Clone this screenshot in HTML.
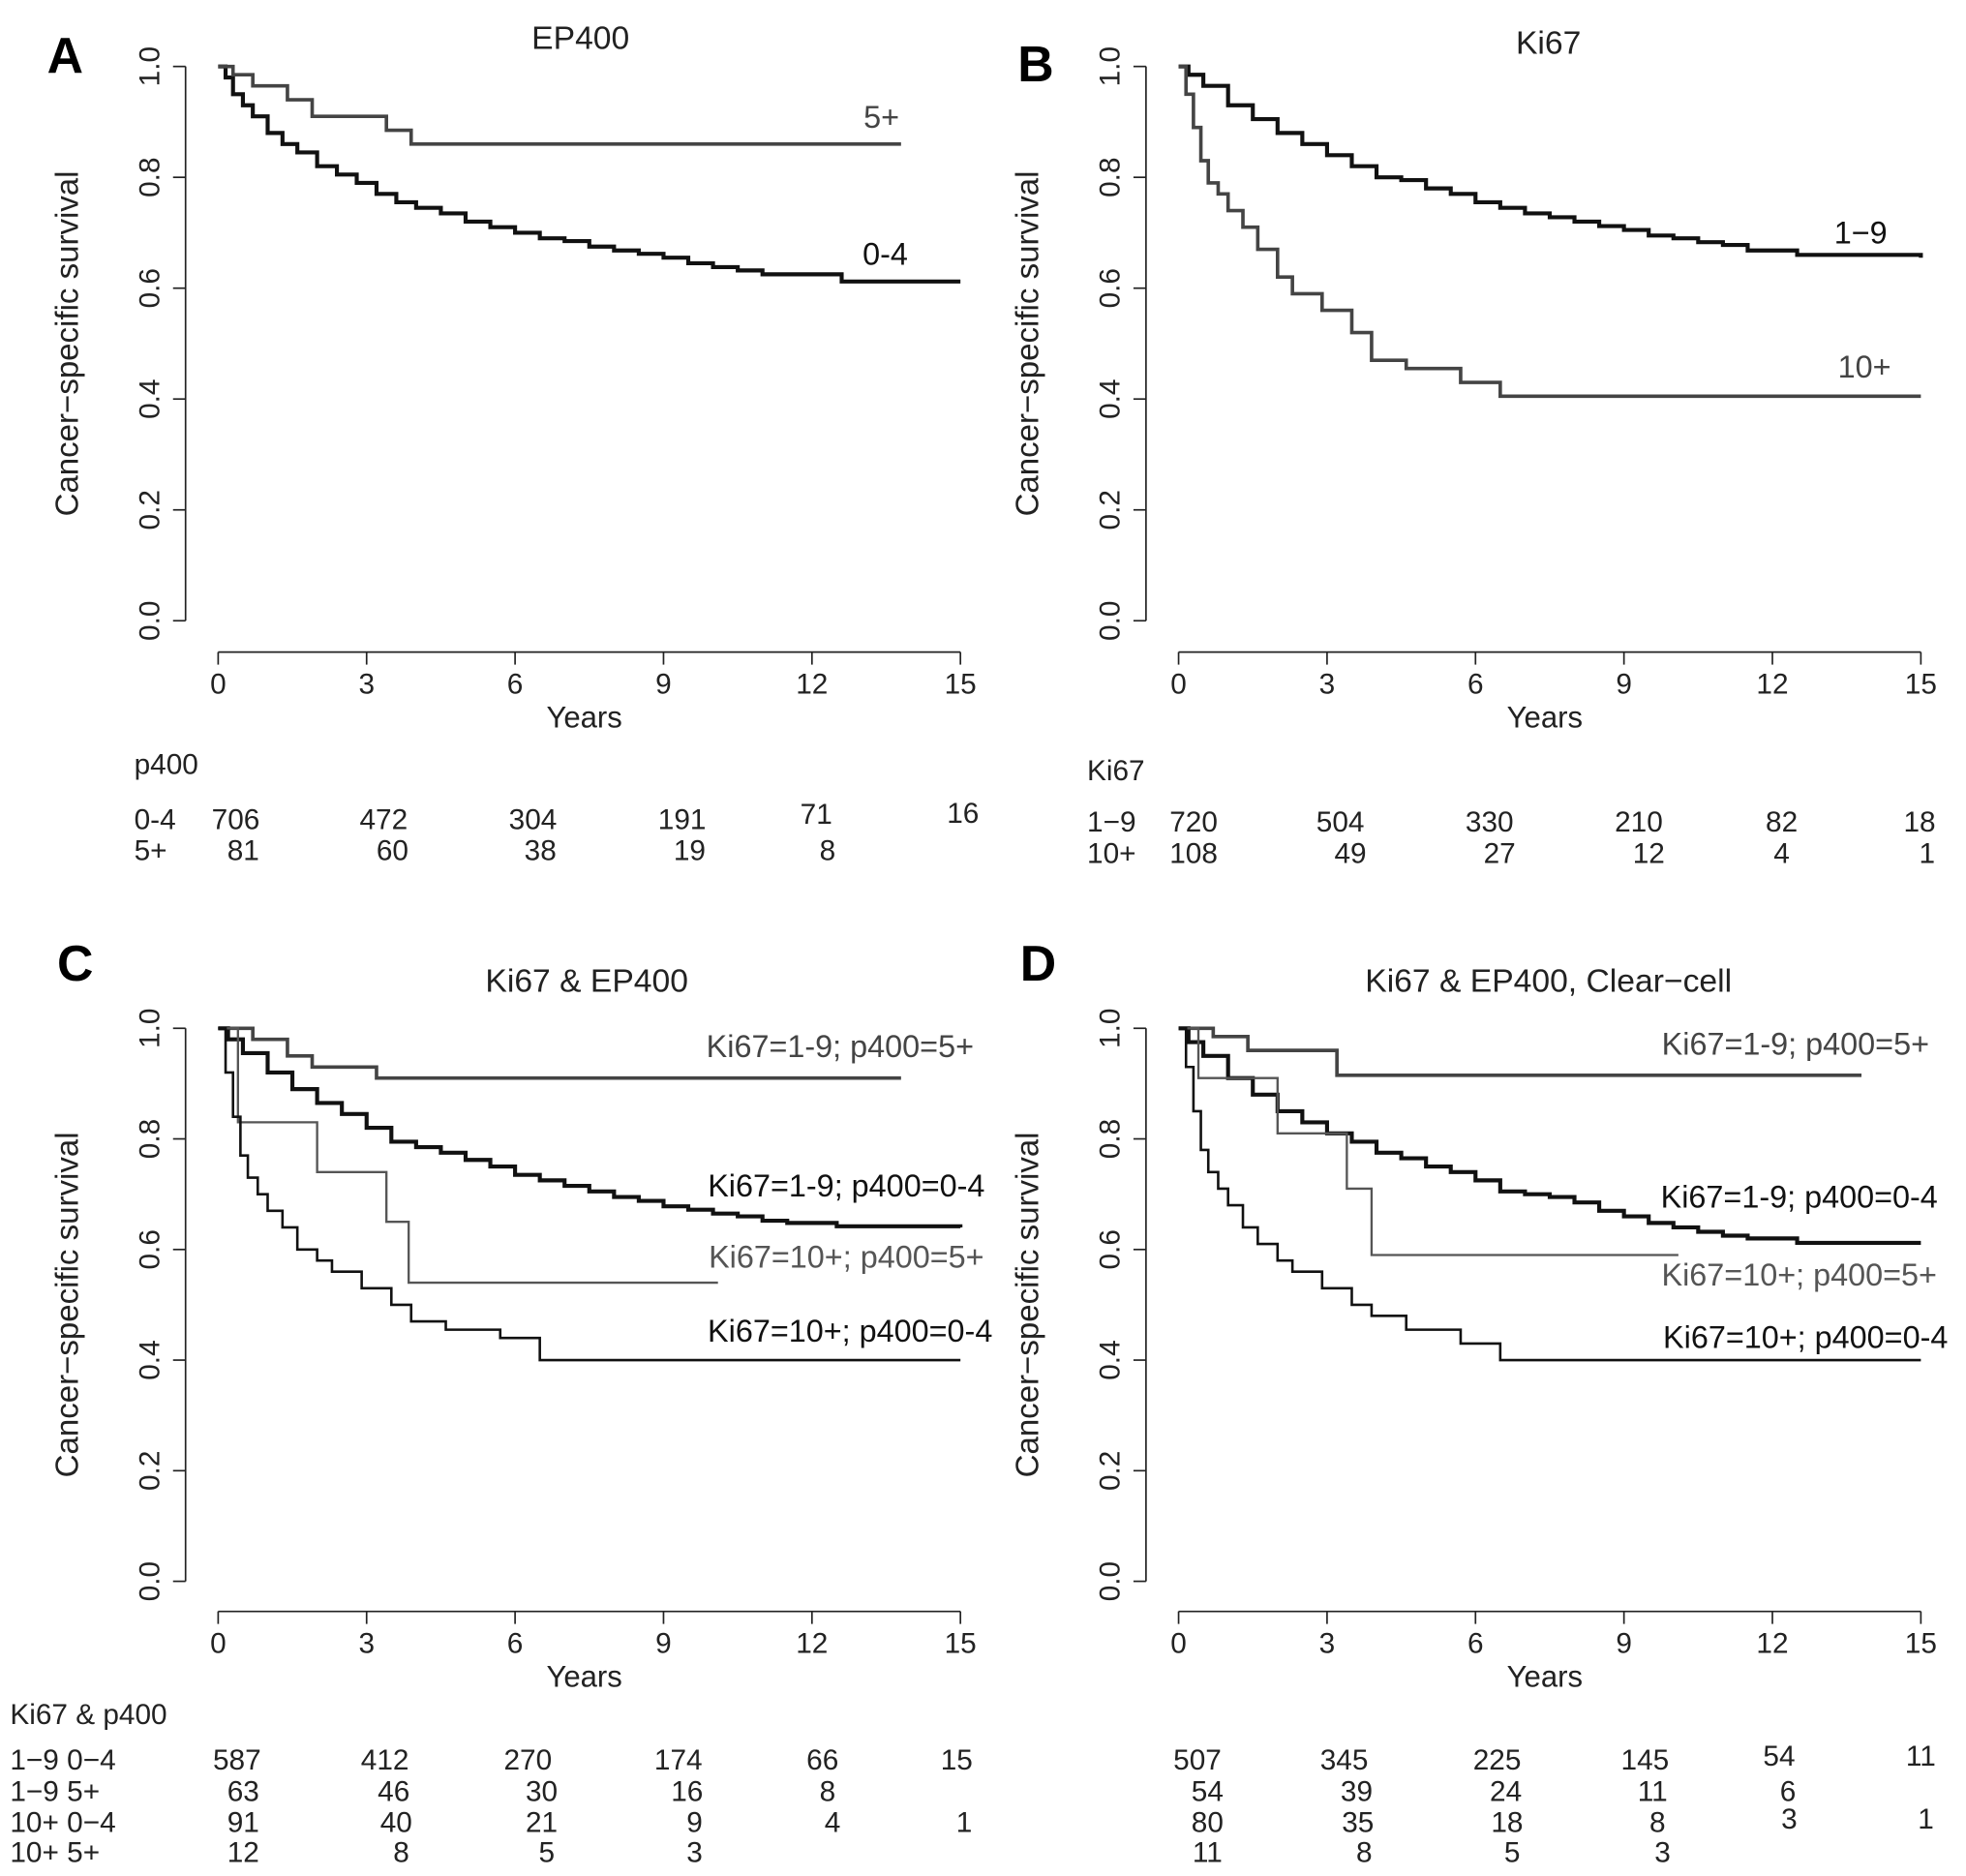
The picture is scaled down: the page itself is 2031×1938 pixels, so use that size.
<!DOCTYPE html>
<html><head><meta charset="utf-8"><style>
html,body{margin:0;padding:0;background:#fff}
svg{display:block}
text{font-family:"Liberation Sans",Arial,sans-serif}
</style></head><body>
<svg id="fig" width="2031" height="1938" viewBox="0 0 1568 1496" preserveAspectRatio="none" xmlns="http://www.w3.org/2000/svg"></svg>
<script>
// ---- data (time in years, survival) ----
const xTicks=[0,3,6,9,12,15];
const yTicks=[0,0.2,0.4,0.6,0.8,1.0];
const yTickLabels=["0.0","0.2","0.4","0.6","0.8","1.0"];
const a04T=[0,0.15,0.3,0.5,0.7,1,1.3,1.6,2,2.4,2.8,3.2,3.6,4,4.5,5,5.5,6,6.5,7,7.5,8,8.5,9,9.5,10,10.5,11,12.6,15];
const a04S=[1,0.98,0.95,0.93,0.91,0.88,0.86,0.845,0.82,0.805,0.79,0.77,0.755,0.745,0.735,0.72,0.71,0.70,0.69,0.685,0.675,0.668,0.662,0.655,0.645,0.638,0.632,0.625,0.612,0.612];
const a5T=[0,0.3,0.7,1.4,1.9,3.4,3.9,13.8];
const a5S=[1,0.985,0.965,0.94,0.91,0.885,0.86,0.86];
const b19T=[0,0.2,0.5,1,1.5,2,2.5,3,3.5,4,4.5,5,5.5,6,6.5,7,7.5,8,8.5,9,9.5,10,10.5,11,11.5,12.5,15];
const b19S=[1,0.985,0.965,0.93,0.905,0.88,0.86,0.84,0.82,0.80,0.795,0.78,0.77,0.755,0.745,0.735,0.728,0.72,0.712,0.705,0.695,0.69,0.683,0.678,0.668,0.66,0.655];
const b10T=[0,0.15,0.3,0.45,0.6,0.8,1,1.3,1.6,2,2.3,2.9,3.5,3.9,4.6,5.7,6.5,15];
const b10S=[1,0.95,0.89,0.83,0.79,0.77,0.74,0.71,0.67,0.62,0.59,0.56,0.52,0.47,0.455,0.43,0.405,0.405];
const c195T=[0,0.7,1.4,1.9,3.2,13.8];
const c195S=[1,0.98,0.95,0.93,0.91,0.91];
const c1904T=[0,0.2,0.5,1,1.5,2,2.5,3,3.5,4,4.5,5,5.5,6,6.5,7,7.5,8,8.5,9,9.5,10,10.5,11,11.5,12.5,15];
const c1904S=[1,0.98,0.955,0.92,0.89,0.865,0.845,0.82,0.795,0.785,0.775,0.762,0.75,0.735,0.725,0.715,0.705,0.695,0.688,0.678,0.672,0.665,0.66,0.652,0.648,0.642,0.64];
const c105T=[0,0.4,2,3.4,3.85,10.1];
const c105S=[1,0.83,0.74,0.65,0.54,0.54];
const c1004T=[0,0.15,0.3,0.45,0.6,0.8,1,1.3,1.6,2,2.3,2.9,3.5,3.9,4.6,5.7,6.5,15];
const c1004S=[1,0.92,0.84,0.77,0.73,0.70,0.67,0.64,0.6,0.58,0.56,0.53,0.5,0.47,0.455,0.44,0.40,0.40];
const d195T=[0,0.7,1.4,3.2,13.8];
const d195S=[1,0.985,0.96,0.915,0.915];
const d1904T=[0,0.2,0.5,1,1.5,2,2.5,3,3.5,4,4.5,5,5.5,6,6.5,7,7.5,8,8.5,9,9.5,10,10.5,11,11.5,12.5,15];
const d1904S=[1,0.975,0.95,0.91,0.88,0.85,0.83,0.81,0.795,0.775,0.765,0.75,0.74,0.725,0.705,0.7,0.695,0.685,0.67,0.66,0.648,0.64,0.632,0.625,0.62,0.612,0.612];
const d105T=[0,0.4,2,3.4,3.9,10.1];
const d105S=[1,0.91,0.81,0.71,0.59,0.59];
const d1004T=[0,0.15,0.3,0.45,0.6,0.8,1,1.3,1.6,2,2.3,2.9,3.5,3.9,4.6,5.7,6.5,15];
const d1004S=[1,0.93,0.85,0.78,0.74,0.71,0.68,0.64,0.61,0.58,0.56,0.53,0.5,0.48,0.455,0.43,0.40,0.40];

const NS="http://www.w3.org/2000/svg";
const svg=document.getElementById('fig');
function el(tag,attrs,parent){const e=document.createElementNS(NS,tag);for(const k in attrs)e.setAttribute(k,attrs[k]);(parent||svg).appendChild(e);return e;}
function txt(x,y,s,size,anchor,parent,fill,weight,rot){const t=el('text',{x:x,y:y,'font-size':size,'text-anchor':anchor||'middle',fill:fill||'#222'},parent);if(weight)t.setAttribute('font-weight',weight);if(rot)t.setAttribute('transform','rotate(-90 '+x+' '+y+')');t.textContent=s;return t;}

function panel(name,x0,y1,y0,letter,lx,ly,title,tx,ty,series,axisY){
  const g=el('g',{});
  
  
  const xs=t=>x0+t*(592/15), ys=s=>y0-s*(y0-y1);
  const lt=txt(lx,ly,letter,40,'middle',g,'#000','bold');
  
  const tt=txt(tx,ty,title,26,'middle',g);
  
  const ax=x0-26;
  const ya=el('g',{},g);
  
  el('line',{x1:ax,x2:ax,y1:ys(0),y2:ys(1),stroke:'#222','stroke-width':1.3},ya);
  yTicks.forEach((v,i)=>{el('line',{x1:ax-10,x2:ax,y1:ys(v),y2:ys(v),stroke:'#222','stroke-width':1.3},ya);txt(ax-21,ys(v),yTickLabels[i],23,'middle',ya,'#222',null,true);});
  const yt=txt(x0-112,ys(0.5),'Cancer−specific survival',25.5,'middle',ya,'#222',null,true);
  
  const xa=el('g',{},g);
  
  el('line',{x1:xs(0),x2:xs(15),y1:axisY,y2:axisY,stroke:'#222','stroke-width':1.3},xa);
  xTicks.forEach(v=>{el('line',{x1:xs(v),x2:xs(v),y1:axisY,y2:axisY+10,stroke:'#222','stroke-width':1.3},xa);txt(xs(v),axisY+33,String(v),23,'middle',xa);});
  const xt=txt(xs(7.4),axisY+60,'Years',24,'middle',xa);
  
  series.forEach(s=>{
    let d='M'+xs(s.t[0])+','+ys(s.s[0]);
    for(let i=1;i<s.t.length;i++){d+=' H'+xs(s.t[i])+' V'+ys(s.s[i]);}
    const p=el('path',{d:d,fill:'none',stroke:s.c,'stroke-width':s.w},g);
    
    
    const l=txt(s.lx,s.ly,s.lab,25,'middle',g,s.lc||s.c);
    
    
  });
}
const K='#111',G='#444',G2='#555';
panel('panel-a',174,53,495,'A',52,58,'EP400',463,39,[
 {n:'curve-0-4',t:a04T,s:a04S,c:K,w:3.2,lab:'0-4',lx:706,ly:211},
 {n:'curve-5plus',t:a5T,s:a5S,c:G,w:2.8,lab:'5+',lx:703,ly:102}],520);
panel('panel-b',940,53,495,'B',826,65,'Ki67',1235,43,[
 {n:'curve-1-9',t:b19T,s:b19S,c:K,w:3.2,lab:'1−9',lx:1484,ly:194},
 {n:'curve-10plus',t:b10T,s:b10S,c:G,w:2.8,lab:'10+',lx:1487,ly:301}],520);
panel('panel-c',174,820,1261,'C',60,782,'Ki67 & EP400',468,791,[
 {n:'curve-ki19-p5',t:c195T,s:c195S,c:G,w:2.8,lab:'Ki67=1-9; p400=5+',lx:670,ly:843},
 {n:'curve-ki19-p04',t:c1904T,s:c1904S,c:K,w:3.2,lab:'Ki67=1-9; p400=0-4',lx:675,ly:954},
 {n:'curve-ki10-p5',t:c105T,s:c105S,c:G2,w:1.8,lab:'Ki67=10+; p400=5+',lx:675,ly:1011},
 {n:'curve-ki10-p04',t:c1004T,s:c1004S,c:K,w:2,lab:'Ki67=10+; p400=0-4',lx:678,ly:1070}],1285);
panel('panel-d',940,820,1261,'D',828,782,'Ki67 & EP400, Clear−cell',1235,791,[
 {n:'curve-ki19-p5',t:d195T,s:d195S,c:G,w:2.8,lab:'Ki67=1-9; p400=5+',lx:1432,ly:841},
 {n:'curve-ki19-p04',t:d1904T,s:d1904S,c:K,w:3.2,lab:'Ki67=1-9; p400=0-4',lx:1435,ly:963},
 {n:'curve-ki10-p5',t:d105T,s:d105S,c:G2,w:1.8,lab:'Ki67=10+; p400=5+',lx:1435,ly:1025},
 {n:'curve-ki10-p04',t:d1004T,s:d1004S,c:K,w:2,lab:'Ki67=10+; p400=0-4',lx:1440,ly:1075}],1285);

function table(name,hx,hy,head,rows){
  const g=el('g',{});
  
  
  txt(hx,hy,head,23,'start',g);
  rows.forEach(r=>{
    txt(hx,r.y,r.lab,23,'start',g);
    r.v.forEach((v,i)=>txt(r.x[i],r.y+(r.dy?r.dy[i]:0),v,23,'middle',g));
  });
}
table('risk-table-a',107,617,'p400',[
 {lab:'0-4',y:661,v:['706','472','304','191','71','16'],x:[188,306,425,544,651,768],dy:[0,0,0,0,-4,-5]},
 {lab:'5+',y:686,v:['81','60','38','19','8'],x:[194,313,431,550,660]}]);
table('risk-table-b',867,622,'Ki67',[
 {lab:'1−9',y:663,v:['720','504','330','210','82','18'],x:[952,1069,1188,1307,1421,1531]},
 {lab:'10+',y:688,v:['108','49','27','12','4','1'],x:[952,1077,1196,1315,1421,1537]}]);
table('risk-table-c',8,1375,'Ki67 & p400',[
 {lab:'1−9 0−4',y:1411,v:['587','412','270','174','66','15'],x:[189,307,421,541,656,763]},
 {lab:'1−9 5+',y:1436,v:['63','46','30','16','8'],x:[194,314,432,548,660]},
 {lab:'10+ 0−4',y:1461,v:['91','40','21','9','4','1'],x:[194,316,432,554,664,769]},
 {lab:'10+ 5+',y:1485,v:['12','8','5','3'],x:[194,320,436,554]}]);
table('risk-table-d',-200,-50,'',[
 {lab:'',y:1411,v:['507','345','225','145','54','11'],x:[955,1072,1194,1312,1419,1532],dy:[0,0,0,0,-3,-3]},
 {lab:'',y:1436,v:['54','39','24','11','6'],x:[963,1082,1201,1318,1426]},
 {lab:'',y:1461,v:['80','35','18','8','3','1'],x:[963,1083,1202,1322,1427,1536],dy:[0,0,0,0,-3,-3]},
 {lab:'',y:1485,v:['11','8','5','3'],x:[963,1088,1206,1326]}]);
</script>
</body></html>
